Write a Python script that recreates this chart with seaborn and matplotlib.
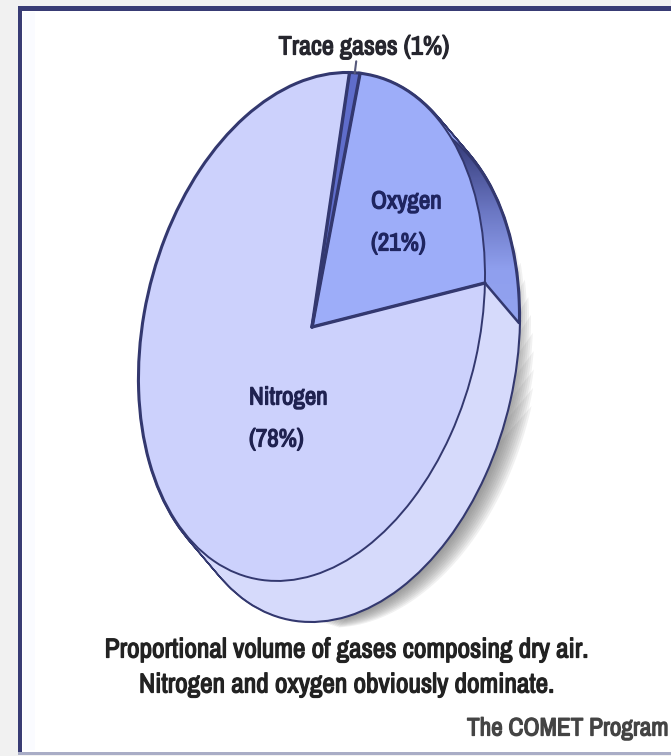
import numpy as np
import matplotlib
matplotlib.use("Agg")
import matplotlib.pyplot as plt
import matplotlib.patheffects as pe
import seaborn as sns
from matplotlib.patches import Rectangle, PathPatch
from matplotlib.path import Path
from matplotlib.transforms import Affine2D

# data
gases = ["Oxygen", "Trace gases", "Nitrogen"]
shares = [21, 1, 78]
top_colors = ["#9dadf9", "#5f6dcb", "#ccd1fc"]
side_colors = ["#8f9fee", "#5f6dcb", "#d6dafb"]

W, H = 671, 756
LINE = "#33386f"
START = -1.7

# pie is a tilted disc: unit circle -> pixels (y up)
cx, cy = 312, H - 327
M = np.array([[173.0, 0.0], [51.4, 248.7]])
depth = np.array([34.0, -40.0])


def disc(dx=0.0, dy=0.0):
    return Affine2D(matrix=[[M[0, 0], M[0, 1], cx + dx],
                            [M[1, 0], M[1, 1], cy + dy],
                            [0, 0, 1]])


def rim(angles, dx=0.0, dy=0.0):
    a = np.radians(angles)
    pts = M @ np.vstack([np.cos(a), np.sin(a)])
    return pts[0] + cx + dx, pts[1] + cy + dy


def draw_pie(ax, colors, dx=0.0, dy=0.0, **wedge_kw):
    wedges, _ = ax.pie(shares, colors=colors, startangle=START, wedgeprops=wedge_kw)
    for w in wedges:
        w.set_transform(disc(dx, dy) + ax.transData)
    return wedges


sns.set_theme(style="white")
plt.rcParams["font.family"] = ["Archivo Narrow", "Liberation Sans", "DejaVu Sans"]

fig = plt.figure(figsize=(W / 100, H / 100), dpi=100, facecolor="#f1f1f1")
ax = fig.add_axes([0, 0, 1, 1])

# panel and frame
ax.add_patch(Rectangle((20, H - 752), W, 743, fc="white", ec="none", zorder=0))
ax.add_patch(Rectangle((23, H - 750), 12, 738, fc="#fafbff", ec="none", zorder=0))
ax.add_patch(Rectangle((18, H - 752), 4, 746, fc="#383b74", ec="none", zorder=1))
ax.add_patch(Rectangle((18, H - 11), W, 5, fc="#383b74", ec="none", zorder=1))
ax.add_patch(Rectangle((18, H - 755), W, 3, fc="#a9adc6", ec="none", zorder=1))

# soft shadow on the lower right of the rim
for k in range(1, 12):
    arc = np.linspace(-100, 25 - 4 * k, 80)
    sh_x, sh_y = rim(arc, depth[0] + 2.0 * k, depth[1] - 0.6 * k)
    ax.fill(sh_x, sh_y, color="#666666", alpha=0.09, lw=0, zorder=0.8)

# extruded side: first the outline, then the fill over it
steps = np.linspace(1, 0, 41)
for s in steps:
    draw_pie(ax, [LINE] * 3, depth[0] * s, depth[1] * s, edgecolor=LINE, linewidth=3)
for s in steps:
    draw_pie(ax, side_colors, depth[0] * s, depth[1] * s, edgecolor="none")

# oxygen side gets the dark gradient
oxy_angles = np.linspace(START, START + shares[0] * 3.6, 80)
x1, y1 = rim(oxy_angles)
x2, y2 = rim(oxy_angles[::-1], depth[0], depth[1])
verts = np.column_stack([np.r_[x1, x2], np.r_[y1, y2]])
verts = np.vstack([verts, verts[0]])
codes = [Path.MOVETO] + [Path.LINETO] * (len(verts) - 2) + [Path.CLOSEPOLY]
clip = PathPatch(Path(verts, codes), transform=ax.transData, fc="none", ec="none")
ax.add_patch(clip)
grad_cmap = sns.blend_palette(["#343a78", "#3d4484", "#6a76c2", "#8f9fee", "#93a3f0"], as_cmap=True)
grad = ax.imshow(np.linspace(0, 1, 128)[:, None], cmap=grad_cmap, aspect="auto",
                 extent=[400, 530, H - 330, H - 90], origin="upper", zorder=1.5)
grad.set_clip_path(clip)
ox_x, ox_y = rim(oxy_angles, depth[0], depth[1])
ax.plot(ox_x, ox_y, color=LINE, lw=1.5, zorder=1.6)
sx, sy = rim(np.array([START]))
ax.plot([sx[0], sx[0] + depth[0]], [sy[0], sy[0] + depth[1]], color=LINE, lw=1.8, zorder=1.6)

# top face
for w in draw_pie(ax, top_colors, edgecolor=LINE, linewidth=1.4):
    w.set_zorder(2)

# radial edges are heavier
edge_angles = np.array([START, START + shares[0] * 3.6, START + (shares[0] + shares[1]) * 3.6])
ex, ey = rim(edge_angles)
for x, y in zip(ex, ey):
    ax.plot([cx, x], [cy, y], color=LINE, lw=2.4, zorder=3, solid_capstyle="round")

# leader of the trace label
tx, ty = rim(np.array([START + (shares[0] + shares[1] / 2) * 3.6]))
ax.plot([tx[0], tx[0] + 1.5], [ty[0], ty[0] + 12], color="#55587a", lw=1.5, zorder=3)


def label(x, y, s, size, color, ha="left"):
    t = ax.text(x, H - y, s, fontsize=size, color=color, ha=ha, va="center", zorder=5)
    # the source text is heavy and blurred
    t.set_path_effects([pe.withStroke(linewidth=0.9, foreground=color)])


label(364, 47, "Trace gases (1%)", 19, "#26262e", "center")
label(371, 201, "Oxygen", 18, "#1f2560")
label(371, 243, "(21%)", 18, "#1f2560")
label(249, 397, "Nitrogen", 18, "#1f2250")
label(249, 439, "(78%)", 18, "#1f2250")
label(347, 650, "Proportional volume of gases composing dry air.", 19.7, "#222222", "center")
label(347, 685, "Nitrogen and oxygen obviously dominate.", 19.7, "#222222", "center")
label(467, 728, "The COMET Program", 18.2, "#444444")

ax.set_xlim(0, W)
ax.set_ylim(0, H)
ax.set_aspect("auto")
ax.axis("off")

fig.savefig("out.png", dpi=100, facecolor=fig.get_facecolor())
